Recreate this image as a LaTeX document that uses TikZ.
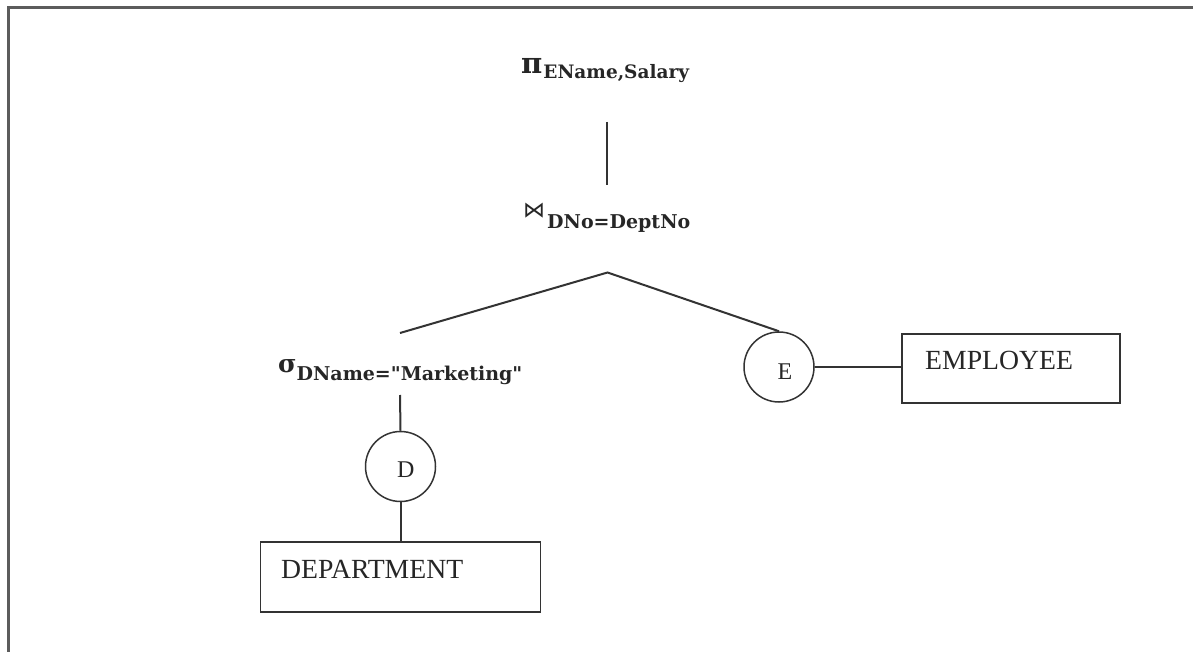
\documentclass[tikz,border=0pt]{standalone}
\usepackage{fontspec}
\setmainfont{Liberation Serif}
\newfontfamily\opfont{DejaVu Serif}
\newfontfamily\symfont{DejaVu Sans}
\definecolor{ink}{HTML}{262626}
\definecolor{rule}{HTML}{333333}
\begin{document}
\begin{tikzpicture}[x=1pt,y=-1pt,
  frame/.style={draw=rule!80!white,line width=3pt},
  link/.style={draw=rule,line width=2pt},
  relbox/.style={draw=rule,line width=1.8pt,rectangle,inner sep=0pt},
  alias/.style={draw=rule,line width=1.5pt,circle,inner sep=0pt,minimum size=70pt},
  optext/.style={inner sep=0pt,anchor=base west,text=ink},
  relname/.style={inner sep=0pt,anchor=base west,text=ink,font=\fontsize{27.7}{30}\selectfont},
  aliasname/.style={inner sep=0pt,anchor=base west,text=ink,font=\fontsize{24}{26}\selectfont}]
\useasboundingbox (0,0) rectangle (1193,652);
\fill[white] (0,0) rectangle (1193,652);
% outer frame
\draw[frame] (8,652) -- (8,8) -- (1193,8);

% operators
\node[optext] (proj) at (521,79)
  {\raisebox{5pt}{\opfont\bfseries\fontsize{29}{31}\selectfont π}\hspace{1pt}{\opfont\bfseries\fontsize{18.5}{21}\selectfont EName,Salary}};
\node[optext] (join) at (523,229)
  {\raisebox{11pt}{\symfont\fontsize{22}{24}\selectfont ⋈}\hspace{2pt}{\opfont\bfseries\fontsize{19}{21}\selectfont DNo=DeptNo}};
\node[optext] (sel) at (278,380)
  {\raisebox{8pt}{\opfont\bfseries\fontsize{25}{27}\selectfont σ}\hspace{0pt}{\opfont\bfseries\fontsize{19}{21}\selectfont DName="Marketing"}};

% aliases
\node[alias] (E) at (779,367) {};
\node[alias] (D) at (400.5,466.5) {};
\node[aliasname] (Elbl) at (777.5,379) {E};
\node[aliasname] (Dlbl) at (397,477) {D};

% relations
\node[relbox,minimum width=218pt,minimum height=69pt] (emp) at (1011,368.5) {};
\node[relbox,minimum width=280pt,minimum height=70pt] (dep) at (400.5,577) {};
\node[relname] (empname) at (925,369) {EMPLOYEE};
\node[relname] (depname) at (281,578) {DEPARTMENT};

% tree edges
\coordinate (apex) at (607.5,272.5);
\coordinate (projfoot) at (607,122);
\coordinate (joinhead) at (607,185);
\coordinate (armleft) at (400,333);
\coordinate (selfoot) at (400,395);
\draw[link] (projfoot) -- (joinhead);
\draw[link] (armleft) -- (apex) -- (E.north);
\draw[link] (selfoot) -- (D.north);
\draw[link] (D.south) -- (D.south |- dep.north);
\draw[link] (E.east) -- (E.east -| emp.west);
\end{tikzpicture}
\end{document}
